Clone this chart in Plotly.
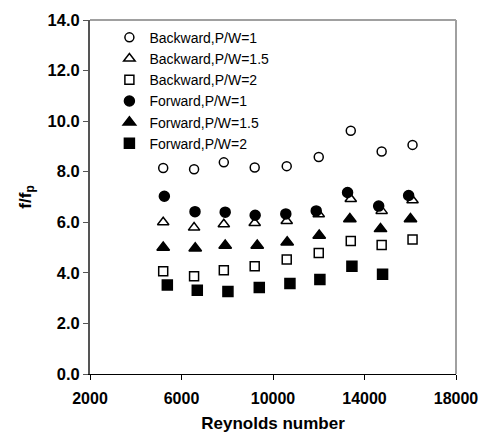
import plotly.graph_objects as go

re_back = [5200, 6550, 7850, 9200, 10600, 12000, 13400, 14750, 16100]
back_pw1 = [8.15, 8.10, 8.37, 8.17, 8.22, 8.58, 9.62, 8.80, 9.06]
back_pw15 = [6.00, 5.79, 5.92, 5.97, 6.05, 6.32, 6.92, 6.45, 6.87]
back_pw2 = [4.06, 3.87, 4.10, 4.26, 4.53, 4.79, 5.26, 5.10, 5.32]

re_fwd1 = [5250, 6590, 7910, 9220, 10560, 11890, 13260, 14620, 15930]
fwd_pw1 = [7.03, 6.42, 6.40, 6.28, 6.33, 6.45, 7.18, 6.64, 7.06]
re_fwd15 = [5200, 6600, 7910, 9310, 10620, 12020, 13360, 14700, 16010]
fwd_pw15 = [5.00, 4.97, 5.08, 5.08, 5.21, 5.48, 6.13, 5.74, 6.13]
re_fwd2 = [5380, 6690, 8030, 9400, 10740, 12050, 13450, 14790]
fwd_pw2 = [3.52, 3.31, 3.26, 3.42, 3.58, 3.74, 4.26, 3.94]

x_ticks = [2000, 6000, 10000, 14000, 18000]

series = [
    ("Backward,P/W=1", re_back, back_pw1, "circle-open", 9),
    ("Backward,P/W=1.5", re_back, back_pw15, "triangle-up-open", 10),
    ("Backward,P/W=2", re_back, back_pw2, "square-open", 9),
    ("Forward,P/W=1", re_fwd1, fwd_pw1, "circle", 10),
    ("Forward,P/W=1.5", re_fwd15, fwd_pw15, "triangle-up", 11),
    ("Forward,P/W=2", re_fwd2, fwd_pw2, "square", 10),
]

fig = go.Figure()
for name, xs, ys, sym, sz in series:
    fig.add_trace(go.Scatter(
        x=xs, y=ys, mode="markers", name=name,
        marker=dict(symbol=sym, size=sz, color="black",
                    line=dict(color="black", width=1.5)),
    ))

font_family = "Liberation Sans, Arial, sans-serif"
fig.update_layout(
    width=486, height=436,
    margin=dict(l=90, r=30, t=20, b=62),
    paper_bgcolor="white", plot_bgcolor="white",
    font=dict(family=font_family, color="black"),
    showlegend=True,
    legend=dict(x=0.053, y=0.995, xanchor="left", yanchor="top",
                bgcolor="rgba(0,0,0,0)", font=dict(size=14, family=font_family),
                itemwidth=30, tracegroupgap=0),
    xaxis=dict(range=[2000, 18000], tickvals=x_ticks, tickformat="d",
               automargin=False,
               showgrid=False, zeroline=False, showline=True, linecolor="black",
               linewidth=1, ticks="outside", ticklen=5, tickcolor="black",
               ticklabelstandoff=5,
               tickfont=dict(size=16, family=font_family, weight="bold"),
               title=dict(text="<b>Reynolds number</b>", font=dict(size=17), standoff=10)),
    yaxis=dict(range=[0, 14], dtick=2, tickformat=".1f",
               automargin=False,
               showgrid=False, zeroline=False, showline=True, linecolor="#555555",
               linewidth=2, ticks="outside", ticklen=5, tickcolor="#555555",
               tickfont=dict(size=16.5, family=font_family, weight="bold"),
               title=dict(text="<b>f/f<sub>p</sub></b>", font=dict(size=17), standoff=12)),
    shapes=[
        dict(type="line", xref="paper", yref="paper", x0=0, x1=1, y0=1, y1=1,
             line=dict(color="#a0a0a0", width=2)),
        dict(type="line", xref="paper", yref="paper", x0=1, x1=1, y0=0, y1=1,
             line=dict(color="#a0a0a0", width=2)),
    ],
)

fig.write_html("out.html")
